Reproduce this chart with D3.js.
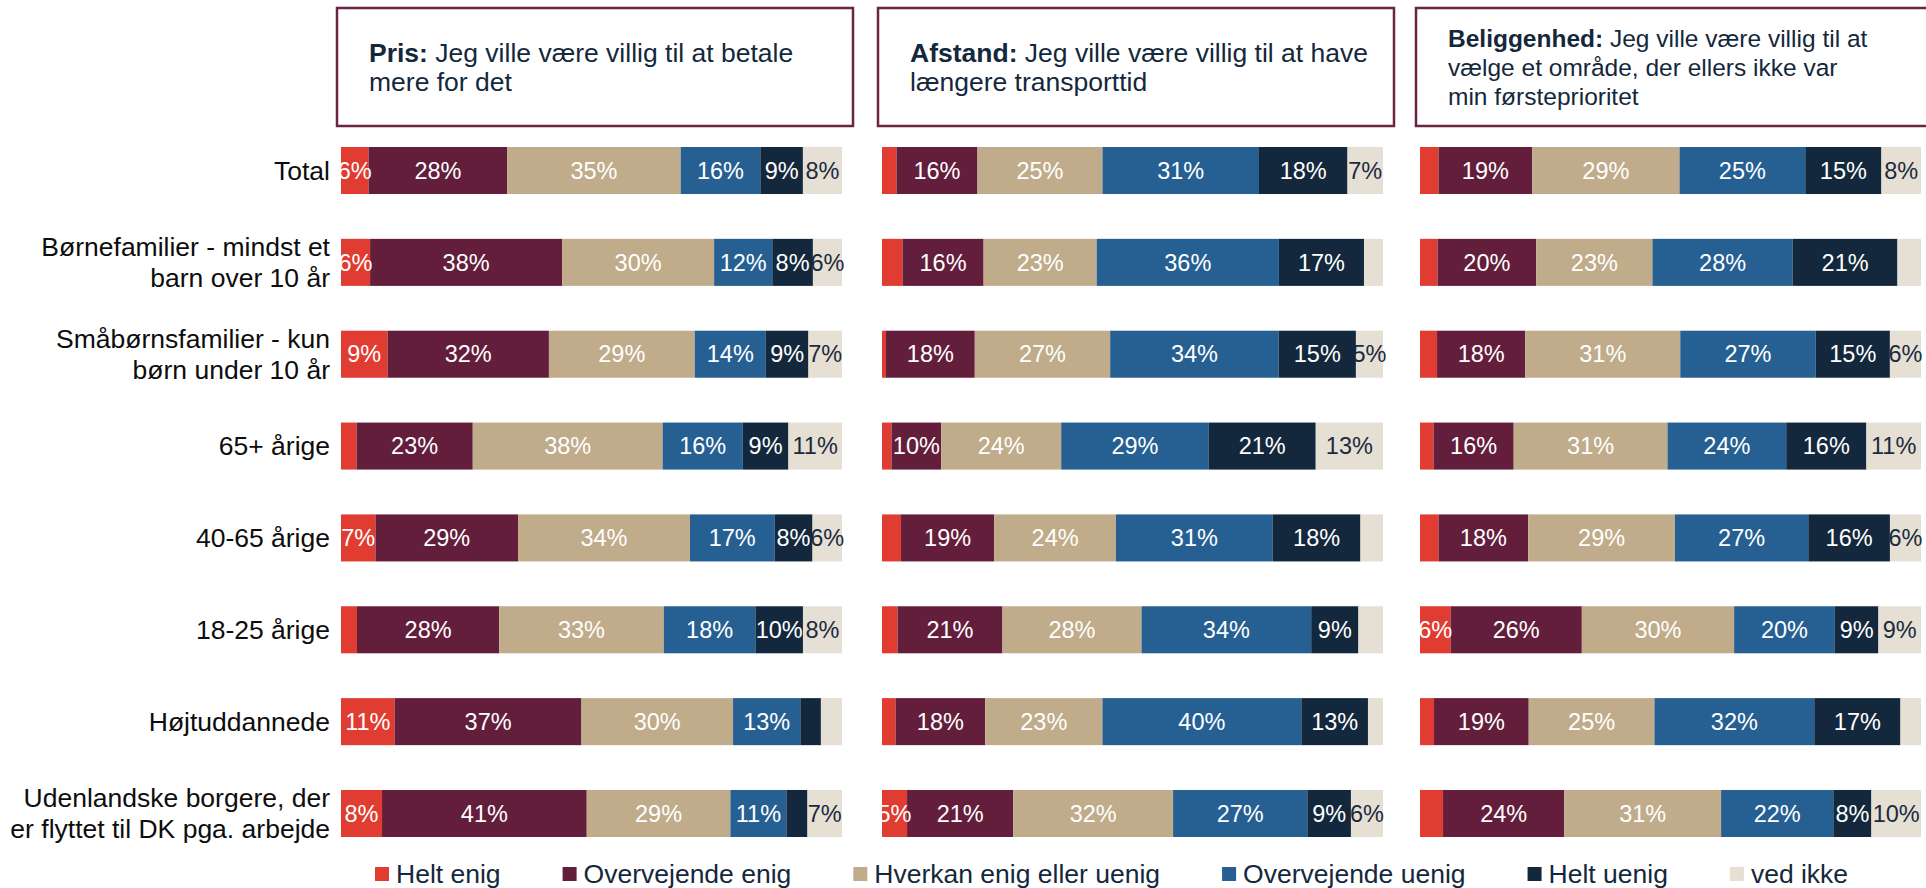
<!DOCTYPE html>
<html>
<head>
<meta charset="utf-8">
<script src="https://cdn.jsdelivr.net/npm/d3@7"></script>
<style>
  body { margin: 0; background: #fff; }
  text { font-family: "Liberation Sans", Arial, sans-serif; }
</style>
</head>
<body>
<script>
const WIDTH = 1926;
const HEIGHT = 888;

// categories (row labels), one array of lines per row
const categories = [
  ["Total"],
  ["Børnefamilier - mindst et", "barn over 10 år"],
  ["Småbørnsfamilier - kun", "børn under 10 år"],
  ["65+ årige"],
  ["40-65 årige"],
  ["18-25 årige"],
  ["Højtuddannede"],
  ["Udenlandske borgere, der", "er flyttet til DK pga. arbejde"]
];

const responses = ["Helt enig", "Overvejende enig", "Hverkan enig eller uenig",
  "Overvejende uenig", "Helt uenig", "ved ikke"];

const colors = ["#e03c31", "#631e3c", "#c0ac8a", "#266092", "#13283d", "#e6dfd3"];

// panel titles: bold lead + rest, split into lines
const titleLead = ["Pris:", "Afstand:", "Beliggenhed:"];
const titleLines = [
  [" Jeg ville være villig til at betale", "mere for det"],
  [" Jeg ville være villig til at have", "længere transporttid"],
  [" Jeg ville være villig til at", "vælge et område, der ellers ikke var", "min førsteprioritet"]
];

// shares in % per row, order = responses
const pris = [
  [5.5, 27.7, 34.6, 15.9, 8.5, 7.8],
  [5.8, 38.3, 30.3, 11.6, 8.1, 5.8],
  [9.3, 32.2, 29.1, 14.2, 8.5, 6.7],
  [3.1, 23.2, 37.9, 16.0, 9.1, 10.7],
  [6.9, 28.5, 34.4, 16.9, 7.6, 5.9],
  [3.2, 28.4, 32.9, 18.3, 9.5, 7.8],
  [10.7, 37.2, 30.2, 13.4, 4.1, 4.2],
  [8.2, 40.9, 28.7, 11.2, 4.2, 6.9]
];

const afstand = [
  [2.9, 16.2, 25.0, 31.3, 17.7, 7.1],
  [4.1, 16.2, 22.6, 36.4, 17.0, 3.8],
  [0.8, 17.7, 27.0, 33.6, 15.4, 5.4],
  [1.9, 9.9, 23.9, 29.4, 21.3, 13.4],
  [3.8, 18.6, 24.3, 31.3, 17.5, 4.5],
  [3.1, 20.9, 27.7, 33.8, 9.4, 4.9],
  [2.7, 17.9, 23.4, 39.7, 13.3, 3.0],
  [5.0, 21.2, 31.9, 26.8, 8.7, 6.4]
];

const beliggenhed = [
  [3.7, 18.7, 29.4, 25.1, 15.2, 7.9],
  [3.5, 19.7, 23.2, 28.0, 20.9, 4.7],
  [3.4, 17.6, 30.9, 27.0, 14.8, 6.2],
  [2.7, 16.0, 30.7, 23.7, 16.0, 10.9],
  [3.7, 17.9, 29.3, 26.6, 16.3, 6.2],
  [6.1, 26.2, 30.4, 20.1, 8.7, 8.5],
  [2.8, 18.9, 25.1, 31.9, 17.2, 4.1],
  [4.6, 24.2, 31.3, 22.4, 7.6, 9.9]
];

const panelData = [pris, afstand, beliggenhed];

// layout
const PANEL_X = [341, 882, 1420];
const TITLE_SIZE = [26.5, 26.5, 24.5];
const BAR_W = 501;
const BOX = { dx: -4, y: 8, w: 516, h: 118 };
const MIN_LABEL = 5;

const svg = d3.select("body").append("svg")
  .attr("width", WIDTH)
  .attr("height", HEIGHT);

const y = d3.scaleBand()
  .domain(d3.range(categories.length))
  .range([147, 837])
  .paddingInner(0.488);

//    Row labels    /////////////////////////////////////////////////////
const rowLabel = svg.append("g").selectAll("text")
  .data(categories)
  .join("text")
  .attr("text-anchor", "end")
  .attr("font-size", 26.5)
  .attr("fill", "#0d0d0d")
  .attr("transform", (d, i) => `translate(330,${y(i) + y.bandwidth() / 2})`);

rowLabel.selectAll("tspan")
  .data(d => d.map((line, k) => ({ line, k, n: d.length })))
  .join("tspan")
  .attr("x", 0)
  .attr("y", d => (d.k - (d.n - 1) / 2) * 31)
  .attr("dy", "0.35em")
  .text(d => d.line);

//    Panels    /////////////////////////////////////////////////////////
panelData.forEach((values, pi) => {
  const x0 = PANEL_X[pi];
  const g = svg.append("g");

  // title box
  g.append("rect")
    .attr("x", x0 + BOX.dx)
    .attr("y", BOX.y)
    .attr("width", BOX.w)
    .attr("height", BOX.h)
    .attr("fill", "none")
    .attr("stroke", "#6b2444")
    .attr("stroke-width", 2.5);

  const lines = titleLines[pi];
  const cy = BOX.y + BOX.h / 2;
  const title = g.append("text")
    .attr("font-size", TITLE_SIZE[pi])
    .attr("fill", "#14283c");
  lines.forEach((line, k) => {
    const ty = cy + (k - (lines.length - 1) / 2) * 29;
    if (k === 0) {
      title.append("tspan")
        .attr("x", x0 + 28).attr("y", ty).attr("dy", "0.35em")
        .attr("font-weight", "bold")
        .text(titleLead[pi]);
      title.append("tspan").text(line);
    } else {
      title.append("tspan")
        .attr("x", x0 + 28).attr("y", ty).attr("dy", "0.35em")
        .text(line);
    }
  });

  // stacked bars, each row normalised to 100%
  const rows = values.map((v, i) => {
    const s = d3.sum(v);
    const o = { cat: i };
    responses.forEach((r, j) => { o[r] = v[j] / s; o["raw_" + j] = v[j]; });
    return o;
  });
  const series = d3.stack().keys(responses)(rows);

  const x = d3.scaleLinear().domain([0, 1]).range([x0, x0 + BAR_W]);

  g.append("g").selectAll("g")
    .data(series)
    .join("g")
    .attr("fill", (d, i) => colors[i])
    .selectAll("rect")
    .data(d => d)
    .join("rect")
    .attr("x", d => x(d[0]))
    .attr("y", d => y(d.data.cat))
    .attr("width", d => x(d[1]) - x(d[0]))
    .attr("height", y.bandwidth());

  // value labels
  g.append("g").selectAll("g")
    .data(series)
    .join("g")
    .attr("fill", (d, i) => i === responses.length - 1 ? "#1b2a3e" : "#fff")
    .selectAll("text")
    .data((d, i) => d.map(s => ({ s, v: s.data["raw_" + i] })).filter(e => e.v >= MIN_LABEL))
    .join("text")
    .attr("x", e => (x(e.s[0]) + x(e.s[1])) / 2)
    .attr("y", e => y(e.s.data.cat) + y.bandwidth() / 2)
    .attr("dy", "0.35em")
    .attr("text-anchor", "middle")
    .attr("font-size", 23.5)
    .text(e => `${Math.round(e.v)}%`);
});

//    Legend    /////////////////////////////////////////////////////////
const legend = svg.append("g").attr("transform", "translate(375,874)");
let lx = 0;
responses.forEach((r, i) => {
  const item = legend.append("g").attr("transform", `translate(${lx},0)`);
  item.append("rect")
    .attr("x", 0).attr("y", -7)
    .attr("width", 14).attr("height", 14)
    .attr("fill", colors[i]);
  const t = item.append("text")
    .attr("x", 21)
    .attr("dy", "0.35em")
    .attr("font-size", 26.5)
    .attr("fill", "#14283c")
    .text(r);
  lx += 21 + t.node().getComputedTextLength() + 62;
});
</script>
</body>
</html>
